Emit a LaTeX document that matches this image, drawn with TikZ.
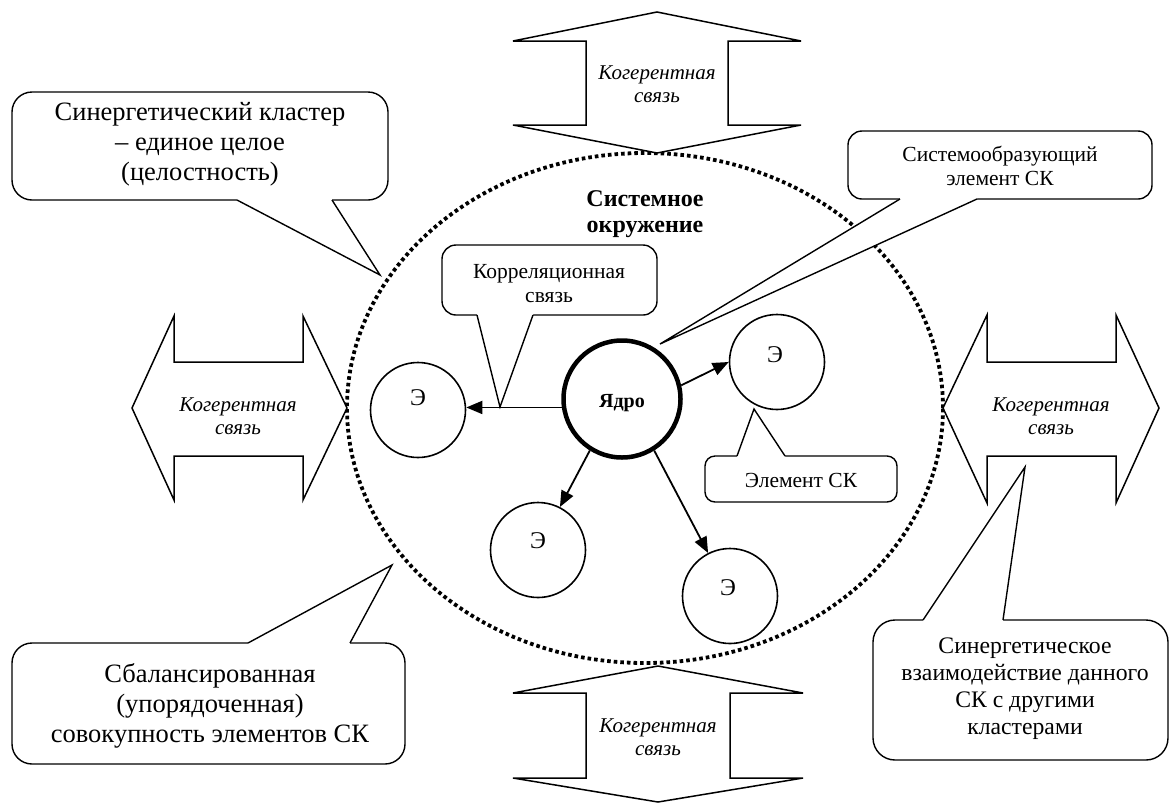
\documentclass[tikz,border=0pt]{standalone}
\usepackage{fontspec}
\setmainfont{Liberation Serif}
\usetikzlibrary{arrows.meta}
\begin{document}
\begin{tikzpicture}[x=1pt,y=-1pt,
 cbox/.style={draw, fill=white, line width=1.4pt},
 cline/.style={draw, line width=1.4pt, line join=miter},
 bigarrow/.style={draw, fill=white, line width=1.5pt, line join=miter},
 elem/.style={circle, draw, line width=1.6pt, minimum size=95pt, inner sep=0pt},
 corenode/.style={circle, draw, line width=4.5pt, minimum size=117pt, inner sep=0pt},
 link/.style={line width=1.8pt, -{Triangle[length=16pt,width=13pt]}},
 envline/.style={line width=3.8pt, dash pattern=on 3.6pt off 3pt},
 bigtext/.style={align=center, font=\fontsize{26.5}{30}\selectfont},
 rtext/.style={align=center, font=\fontsize{23.7}{27}\selectfont},
 midtext/.style={align=center, font=\fontsize{21.5}{24}\selectfont},
 cohtext/.style={align=center, font=\itshape\fontsize{21}{23}\selectfont},
 etext/.style={font=\fontsize{24}{26}\selectfont},
]
\useasboundingbox (0,0) rectangle (1172,804);

% system environment (dotted boundary)
\draw[envline] (645,408) ellipse [x radius=298pt, y radius=255pt];

% coherent-link double arrows
\draw[bigarrow] (657,12) -- (801,41) -- (728,41) -- (728,125) -- (801,125) -- (657,153)
  -- (513,125) -- (586,125) -- (586,41) -- (513,41) -- cycle;
\node[cohtext] (cohT) at (657,84) {Когерентная\\связь};

\draw[bigarrow] (658,666) -- (803,693) -- (730,693) -- (730,778) -- (803,778) -- (658,802)
  -- (513,778) -- (586,778) -- (586,693) -- (513,693) -- cycle;
\node[cohtext] (cohB) at (658,737) {Когерентная\\связь};

\draw[bigarrow] (132,408) -- (174,316) -- (174,362) -- (303,362) -- (303,316) -- (347,408)
  -- (303,500) -- (303,456) -- (174,456) -- (174,500) -- cycle;
\node[cohtext] (cohL) at (238,416) {Когерентная\\связь};

\draw[bigarrow] (943,408) -- (987,315) -- (987,362) -- (1116,362) -- (1116,315) -- (1159,408)
  -- (1116,503) -- (1116,456) -- (987,456) -- (987,503) -- cycle;
\node[cohtext] (cohR) at (1051,416) {Когерентная\\связь};

% environment label
\node[align=center, font=\bfseries\fontsize{24}{26}\selectfont] (env) at (645,214) {Системное\\окружение};

% core and elements
\node[corenode] (core) at (622,399) {};
\node[font=\bfseries\fontsize{20}{22}\selectfont] (coret) at (622,403) {Ядро};

\node[elem] (e1) at (418,410) {};
\node[etext] (e1t) at (418,398) {Э};
\node[elem] (e2) at (777,362) {};
\node[etext] (e2t) at (775,355) {Э};
\node[elem] (e3) at (538,550) {};
\node[etext] (e3t) at (538,541) {Э};
\node[elem] (e4) at (730,596) {};
\node[etext] (e4t) at (728,588) {Э};

\draw[link] (core.188) -- (core.188 -| e1.east);
\draw[link] (core.13) -- (e2.west);
\draw[link] (core.238) -- (e3.63);
\draw[link] (core.302) -- (e4.117);

% callout: synergetic cluster
\draw[cbox, rounded corners=20pt] (12,92) rectangle (388,200);
\fill[white] (237,197) -- (237,200) -- (380,275) -- (332,200) -- (332,197) -- cycle;
\draw[cline] (237,200) -- (380,275) -- (332,200);
\node[bigtext] (c1) at (200,144) {Синергетический кластер\\– единое целое\\(целостность)};

% callout: balanced set
\draw[cbox, rounded corners=20pt] (12,643) rectangle (405,764);
\fill[white] (248,646) -- (248,643) -- (392,565) -- (350,643) -- (350,646) -- cycle;
\draw[cline] (248,643) -- (392,565) -- (350,643);
\node[bigtext] (c2) at (210,706) {Сбалансированная\\(упорядоченная)\\совокупность элементов СК};

% callout: synergetic interaction
\draw[cbox, rounded corners=22pt] (873,620) rectangle (1168,760);
\fill[white] (923,623) -- (923,620) -- (1025,467) -- (1003,620) -- (1003,623) -- cycle;
\draw[cline] (923,620) -- (1025,467) -- (1003,620);
\node[rtext] (c3) at (1025,689) {Синергетическое\\взаимодействие данного\\СК с другими\\кластерами};

% callout: system-forming element
\draw[cbox, rounded corners=14pt] (848,131) rectangle (1152,199);
\fill[white] (900,196) -- (900,199) -- (660,344) -- (977,199) -- (977,196) -- cycle;
\draw[cline] (900,199) -- (660,344) -- (977,199);
\node[midtext] (c4) at (1000,166) {Системообразующий\\элемент СК};

% callout: correlation link
\draw[cbox, rounded corners=14pt] (442,245) rectangle (657,315);
\fill[white] (477,312) -- (477,315) -- (500,407) -- (533,315) -- (533,312) -- cycle;
\draw[cline] (477,315) -- (500,407) -- (533,315);
\node[midtext] (c5) at (549,284) {Корреляционная\\связь};

% callout: element
\draw[cbox, rounded corners=10pt] (705,456) rectangle (897,502);
\fill[white] (737,459) -- (737,456) -- (754,409) -- (785,456) -- (785,459) -- cycle;
\draw[cline] (737,456) -- (754,409) -- (785,456);
\node[midtext] (c6) at (801,480) {Элемент СК};
\end{tikzpicture}
\end{document}
